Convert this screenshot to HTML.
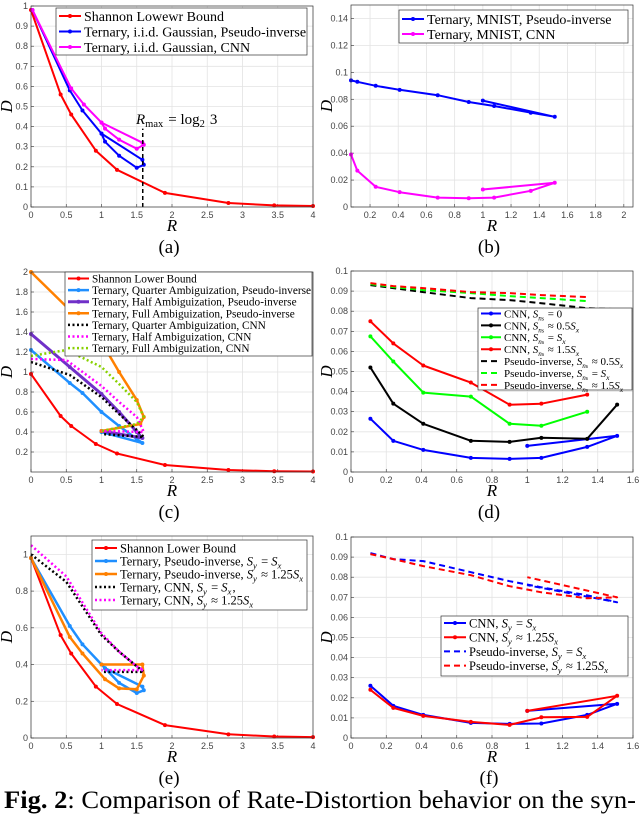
<!DOCTYPE html>
<html><head><meta charset="utf-8">
<style>
html,body{margin:0;padding:0;background:#fff;}
svg{display:block;}
.tk{font-family:"Liberation Sans",sans-serif;font-size:9px;fill:#444;}
.lg{font-family:"Liberation Serif",serif;fill:#000;}
.ax{font-family:"Liberation Serif",serif;font-style:italic;font-size:17px;fill:#000;}
.pl{font-family:"Liberation Serif",serif;font-size:19px;fill:#000;}
</style></head>
<body>
<svg id="fig" width="640" height="814" viewBox="0 0 640 814" xmlns="http://www.w3.org/2000/svg">
<text x="4" y="808" font-family="Liberation Serif, serif" font-size="25" textLength="632" lengthAdjust="spacingAndGlyphs"><tspan font-weight="bold">Fig. 2</tspan>: Comparison of Rate-Distortion behavior on the syn-</text>
</svg>
<script>
// ---------- data ----------
const shannonR=[0,0.42,0.57,0.92,1.22,1.9,2.8,3.45,4];
const shannonD=[0.98,0.56,0.46,0.28,0.185,0.07,0.02,0.008,0.005];
// panel a
const aPinvR=[0.02,0.55,0.73,1.0,1.05,1.25,1.5,1.6,1.58,1.0];
const aPinvD=[0.98,0.58,0.48,0.365,0.325,0.255,0.195,0.21,0.235,0.365];
const aCnnR=[0.02,0.57,0.75,1.0,1.05,1.25,1.5,1.6,1.58,1.0];
const aCnnD=[0.98,0.59,0.51,0.42,0.39,0.335,0.29,0.31,0.32,0.42];
// panel b
const bR=[0.065,0.11,0.24,0.41,0.68,0.9,1.08,1.34,1.51,1.0];
const bPinvD=[0.094,0.093,0.09,0.087,0.083,0.078,0.075,0.07,0.067,0.079];
const bCnnD=[0.039,0.027,0.015,0.011,0.007,0.0065,0.007,0.012,0.018,0.013];
// panel c
const cQpR=[0,0.55,0.73,1.0,1.25,1.5,1.58,1.0];
const cQpD=[1.22,0.89,0.79,0.6,0.46,0.33,0.29,0.4];
const cHpR=[0,0.55,1.0,1.25,1.5,1.58,1.0];
const cHpD=[1.38,1.05,0.78,0.6,0.4,0.34,0.41];
const cFpR=[0,0.55,1.0,1.25,1.5,1.6,1.55,1.0];
const cFpD=[2.0,1.62,1.3,1.0,0.72,0.55,0.48,0.41];
const cQcR=[0,0.55,1.0,1.25,1.5,1.6,1.0];
const cQcD=[1.1,0.97,0.75,0.58,0.42,0.35,0.38];
const cHcR=[0,0.5,1.0,1.25,1.5,1.6,1.0];
const cHcD=[1.13,1.12,0.86,0.7,0.55,0.4,0.41];
const cFcR=[0,0.5,1.0,1.25,1.5,1.6,1.5,1.0];
const cFcD=[1.16,1.22,1.05,0.88,0.7,0.55,0.48,0.41];
// panel d
const dR=[0.11,0.24,0.41,0.68,0.9,1.08,1.34,1.51,1.0];
const dCnn0=[0.0265,0.0155,0.011,0.007,0.0065,0.007,0.0125,0.018,0.013];
const dCnn05=[0.052,0.034,0.024,0.0155,0.015,0.017,0.0165,0.0335];
const dCnn1=[0.0675,0.055,0.0395,0.0375,0.024,0.023,0.03];
const dCnn15=[0.075,0.064,0.053,0.0445,0.0335,0.034,0.0385];
const dPinv05=[0.093,0.0915,0.0895,0.0865,0.0855,0.084,0.0815,0.081];
const dPinv1=[0.0935,0.092,0.0905,0.089,0.0875,0.0865,0.085];
const dPinv15=[0.094,0.0925,0.0915,0.0895,0.089,0.088,0.087];
// panel e
const eBlueR=[0,0.55,0.73,1.0,1.05,1.25,1.5,1.6,1.58,1.05];
const eBlueD=[0.98,0.61,0.51,0.4,0.38,0.3,0.245,0.26,0.28,0.38];
const eOrR=[0,0.55,0.73,1.05,1.25,1.5,1.6,1.58,1.0];
const eOrD=[0.98,0.55,0.46,0.32,0.27,0.265,0.34,0.4,0.4];
const eBkR=[0,0.5,1.0,1.25,1.5,1.6,1.0];
const eBkD=[1.0,0.85,0.56,0.47,0.39,0.36,0.36];
const eMgR=[0,0.5,1.0,1.25,1.5,1.6,1.0];
const eMgD=[1.05,0.88,0.57,0.47,0.39,0.37,0.37];
// panel f
const fR=[0.11,0.24,0.41,0.68,0.9,1.08,1.34,1.51,1.0];
const fCnnA=[0.026,0.016,0.0115,0.0075,0.007,0.0072,0.0115,0.017,0.0135];
const fCnnB=[0.024,0.015,0.011,0.008,0.0065,0.0103,0.0105,0.021,0.0135];
const fPinvA=[0.092,0.089,0.088,0.0825,0.078,0.075,0.071,0.0675,0.076];
const fPinvB=[0.0915,0.089,0.0855,0.081,0.0755,0.0725,0.0695,0.07,0.08];
// ticks
const ticksX4=["0","0.5","1","1.5","2","2.5","3","3.5","4"];
const ticksYa=["0","0.1","0.2","0.3","0.4","0.5","0.6","0.7","0.8","0.9","1"];
const ticksXb=["0.2","0.4","0.6","0.8","1","1.2","1.4","1.6","1.8","2"];
const ticksYb=["0","0.02","0.04","0.06","0.08","0.1","0.12","0.14"];
const ticksYc=["0.2","0.4","0.6","0.8","1","1.2","1.4","1.6","1.8","2"];
const ticksX16=["0","0.2","0.4","0.6","0.8","1","1.2","1.4","1.6"];
const ticksYd=["0","0.01","0.02","0.03","0.04","0.05","0.06","0.07","0.08","0.09","0.1"];
const ticksYe=["0","0.2","0.4","0.6","0.8","1"];

const NS="http://www.w3.org/2000/svg";
const fig=document.getElementById('fig');
function mk(tag,attrs,parent){const e=document.createElementNS(NS,tag);for(const k in attrs)e.setAttribute(k,attrs[k]);(parent||fig).appendChild(e);return e;}

function panel(p){
  const g=mk('g',{});
  
  
  const sx=v=>p.L+(v-p.xl[0])/(p.xl[1]-p.xl[0])*(p.R-p.L);
  const sy=v=>p.B-(v-p.yl[0])/(p.yl[1]-p.yl[0])*(p.B-p.T);
  mk('rect',{x:p.L,y:p.T,width:p.R-p.L,height:p.B-p.T,fill:'#fff'},g);
  p.xt.forEach(t=>{const x=sx(parseFloat(t));
    const l=mk('line',{x1:x,x2:x,y1:p.T,y2:p.B,stroke:'#e3e3e3','stroke-width':0.8},g);
    
    
    mk('line',{x1:x,x2:x,y1:p.B,y2:p.B-3,stroke:'#333','stroke-width':0.6},g);
    const tx=mk('text',{x:x,y:p.B+11,'text-anchor':'middle',class:'tk'},g);tx.textContent=t;
    
    });
  p.yt.forEach(t=>{const y=sy(parseFloat(t));
    const l=mk('line',{x1:p.L,x2:p.R,y1:y,y2:y,stroke:'#e3e3e3','stroke-width':0.8},g);
    
    
    mk('line',{x1:p.L,x2:p.L+3,y1:y,y2:y,stroke:'#333','stroke-width':0.6},g);
    const tx=mk('text',{x:p.L-3,y:y+3,'text-anchor':'end',class:'tk'},g);tx.textContent=t;
    
    });
  const ser=mk('g',{},g);
  p.series.forEach(s=>{
    const pts=s.y.map((v,i)=>sx(s.x[i]).toFixed(1)+','+sy(v).toFixed(1)).join(' ');
    const a={points:pts,fill:'none',stroke:s.c,'stroke-width':s.w||2,'stroke-linejoin':'round'};
    if(s.d)a['stroke-dasharray']=s.d;
    const pl=mk('polyline',a,ser);
    
    
    if(s.m){s.y.forEach((v,i)=>{const c=mk('circle',{cx:sx(s.x[i]),cy:sy(v),r:2,fill:s.c},ser);
      
      });}
  });
  if(p.extra)p.extra(g,sx,sy);
  mk('rect',{x:p.L,y:p.T,width:p.R-p.L,height:p.B-p.T,fill:'none',stroke:'#333','stroke-width':0.7},g);
  const lg=p.leg;
  const lb=mk('g',{},g);
  
  
  mk('rect',{x:lg.x,y:lg.y,width:lg.w,height:lg.h,fill:'#fff',stroke:'#333','stroke-width':0.7},lb);
  lg.items.forEach((it,i)=>{const y=lg.y0+i*lg.dy;
    const s=p.series[it[0]];
    const a={x1:lg.x+3,x2:lg.x+3+lg.ll,y1:y,y2:y,stroke:s.c,'stroke-width':s.w||2};
    if(s.d)a['stroke-dasharray']=s.d;
    mk('line',a,lb);
    if(s.m)mk('circle',{cx:lg.x+3+lg.ll/2,cy:y,r:2,fill:s.c},lb);
    const t=mk('text',{x:lg.x+6+lg.ll,y:y+lg.fs*0.35,class:'lg','font-size':lg.fs,'font-family':'Liberation Serif, serif'},lb);
    t.innerHTML=it[1];
    
    });
  const xl=mk('text',{x:(p.L+p.R)/2,y:p.B+24,'text-anchor':'middle',class:'ax'},g);xl.textContent='R';
  
  
  const yl=mk('text',{x:0,y:0,'text-anchor':'middle',class:'ax',transform:`translate(${p.L-19},${(p.T+p.B)/2}) rotate(-90)`},g);yl.textContent='D';
  
  
  const pl=mk('text',{x:(p.L+p.R)/2-3,y:p.B+46,'text-anchor':'middle',class:'pl'},g);pl.textContent='('+p.id+')';
  
  
}
const it=s=>'<tspan font-style="italic">'+s+'</tspan>';
// subscript using dy shift then restore baseline with a zero-width-ish tspan
const sub=s=>'<tspan font-size="70%" dy="3">'+s+'</tspan><tspan dy="-3">\u200A</tspan>';
const Sns='<tspan font-style="italic">S</tspan><tspan font-size="65%" dy="3" font-style="italic">n<tspan font-size="80%" font-style="normal">s</tspan></tspan><tspan dy="-3">\u200A</tspan>';
const Sx=it('S')+sub(it('x')), Sy=it('S')+sub(it('y'));
const RED='#ff0000',BLUE='#0000ff',MAG='#ff00ff',LB='#1f8fff',PUR='#7030c8',OR='#ff8000',GR='#00ff00',GD='#88d000';

panel({id:'a',L:31,R:313,T:6,B:207,xl:[0,4],yl:[0,1],xt:ticksX4,yt:ticksYa,
 series:[{x:shannonR,y:shannonD,c:RED,m:1,n:'shannon-bound-line'},
  {x:aPinvR,y:aPinvD,c:BLUE,m:1,n:'gaussian-pinv-line'},
  {x:aCnnR,y:aCnnD,c:MAG,m:1,n:'gaussian-cnn-line'}],
 leg:{x:56,y:8,w:251,h:47,y0:16,dy:15.5,ll:22,fs:14,items:[[0,'Shannon Lowewr Bound'],[1,'Ternary, i.i.d. Gaussian, Pseudo-inverse'],[2,'Ternary, i.i.d. Gaussian, CNN']]},
 extra:(g,sx,sy)=>{const l=mk('line',{x1:sx(1.585),x2:sx(1.585),y1:sy(0),y2:sy(0.39),stroke:'#000','stroke-width':1.5,'stroke-dasharray':'4 3'},g);
   
   
   const t=mk('text',{x:136,y:124,class:'lg','font-size':15,'font-family':'Liberation Serif, serif'},g);
   t.innerHTML=it('R')+sub('max')+' = log'+sub('2')+' 3';
   
   }
});
panel({id:'b',L:351,R:633,T:5,B:207,xl:[0.065,2.065],yl:[0,0.15],xt:ticksXb,yt:ticksYb,
 series:[{x:bR,y:bPinvD,c:BLUE,m:1,n:'mnist-pinv-line'},{x:bR,y:bCnnD,c:MAG,m:1,n:'mnist-cnn-line'}],
 leg:{x:399,y:10,w:229,h:33,y0:19,dy:15,ll:22,fs:14,items:[[0,'Ternary, MNIST, Pseudo-inverse'],[1,'Ternary, MNIST, CNN']]}});
panel({id:'c',L:31,R:313,T:272,B:472,xl:[0,4],yl:[0,2],xt:ticksX4,yt:ticksYc,
 series:[{x:shannonR,y:shannonD,c:RED,m:1,n:'shannon-bound-line'},
  {x:cQpR,y:cQpD,c:LB,m:1,w:2.5,n:'quarter-pinv-line'},
  {x:cHpR,y:cHpD,c:PUR,m:1,w:3,n:'half-pinv-line'},
  {x:cFpR,y:cFpD,c:OR,m:1,w:2.5,n:'full-pinv-line'},
  {x:cQcR,y:cQcD,c:'#000',w:2.5,d:'2 2.5',n:'quarter-cnn-line'},
  {x:cHcR,y:cHcD,c:MAG,w:2.5,d:'2 2.5',n:'half-cnn-line'},
  {x:cFcR,y:cFcD,c:GD,w:2.5,d:'2 2.5',n:'full-cnn-line'}],
 leg:{x:65,y:272,w:247,h:84,y0:278.5,dy:11.6,ll:21,fs:11.3,items:[[0,'Shannon Lower Bound'],[1,'Ternary, Quarter Ambiguization, Pseudo-inverse'],[2,'Ternary, Half Ambiguization, Pseudo-inverse'],[3,'Ternary, Full Ambiguization, Pseudo-inverse'],[4,'Ternary, Quarter Ambiguization, CNN'],[5,'Ternary, Half Ambiguization, CNN'],[6,'Ternary, Full Ambiguization, CNN']]}});
panel({id:'d',L:351,R:633,T:271,B:472,xl:[0,1.6],yl:[0,0.1],xt:ticksX16,yt:ticksYd,
 series:[{x:dR,y:dCnn0,c:BLUE,m:1,n:'cnn-sn0-line'},
  {x:dR,y:dCnn05,c:'#000',m:1,n:'cnn-sn05-line'},
  {x:dR,y:dCnn1,c:GR,m:1,n:'cnn-sn1-line'},
  {x:dR,y:dCnn15,c:RED,m:1,n:'cnn-sn15-line'},
  {x:dR,y:dPinv05,c:'#000',d:'6 4',n:'pinv-sn05-line'},
  {x:dR,y:dPinv1,c:GR,d:'6 4',n:'pinv-sn1-line'},
  {x:dR,y:dPinv15,c:RED,d:'6 4',n:'pinv-sn15-line'}],
 leg:{x:478,y:308,w:154,h:82,y0:313.5,dy:11.9,ll:20,fs:11,items:[[0,'CNN, '+Sns+' = 0'],[1,'CNN, '+Sns+' ≈ 0.5'+Sx],[2,'CNN, '+Sns+' = '+Sx],[3,'CNN, '+Sns+' ≈ 1.5'+Sx],[4,'Pseudo-inverse, '+Sns+' ≈ 0.5'+Sx],[5,'Pseudo-inverse, '+Sns+' = '+Sx],[6,'Pseudo-inverse, '+Sns+' ≈ 1.5'+Sx]]}});
panel({id:'e',L:31,R:313,T:536,B:738,xl:[0,4],yl:[0,1.1],xt:ticksX4,yt:ticksYe,
 series:[{x:shannonR,y:shannonD,c:RED,m:1,n:'shannon-bound-line'},
  {x:eBlueR,y:eBlueD,c:LB,m:1,w:2.5,n:'pinv-sy-sx-line'},
  {x:eOrR,y:eOrD,c:OR,m:1,w:2.5,n:'pinv-sy-125-line'},
  {x:eBkR,y:eBkD,c:'#000',w:2.5,d:'2 2.5',n:'cnn-sy-sx-line'},
  {x:eMgR,y:eMgD,c:MAG,w:2.5,d:'2 2.5',n:'cnn-sy-125-line'}],
 leg:{x:92,y:540,w:215,h:70,y0:548,dy:13,ll:22,fs:12.5,items:[[0,'Shannon Lower Bound'],[1,'Ternary, Pseudo-inverse, '+Sy+' = '+Sx],[2,'Ternary, Pseudo-inverse, '+Sy+' ≈ 1.25'+Sx],[3,'Ternary, CNN, '+Sy+' = '+Sx+','],[4,'Ternary, CNN, '+Sy+' ≈ 1.25'+Sx]]}});
panel({id:'f',L:351,R:633,T:537,B:738,xl:[0,1.6],yl:[0,0.1],xt:ticksX16,yt:ticksYd,
 series:[{x:fR,y:fCnnA,c:BLUE,m:1,n:'cnn-sy-sx-line'},
  {x:fR,y:fCnnB,c:RED,m:1,n:'cnn-sy-125-line'},
  {x:fR,y:fPinvA,c:BLUE,d:'6 4',n:'pinv-sy-sx-line'},
  {x:fR,y:fPinvB,c:RED,d:'6 4',n:'pinv-sy-125-line'}],
 leg:{x:441,y:616,w:187,h:60,y0:623,dy:14.2,ll:22,fs:12.5,items:[[0,'CNN, '+Sy+' = '+Sx],[1,'CNN, '+Sy+' ≈ 1.25'+Sx],[2,'Pseudo-inverse, '+Sy+' = '+Sx],[3,'Pseudo-inverse, '+Sy+' ≈ 1.25'+Sx]]}});
</script>
</body></html>
